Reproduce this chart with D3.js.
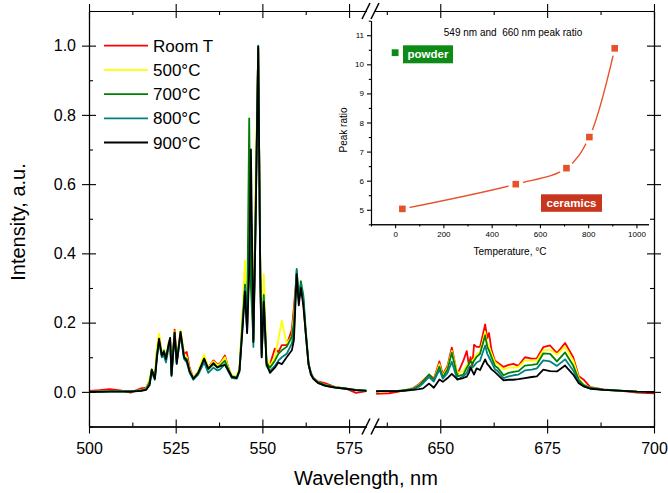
<!DOCTYPE html>
<html>
<head>
<meta charset="utf-8">
<script src="https://cdn.jsdelivr.net/npm/d3@7"></script>
<style>
  body { margin: 0; background: #fff; }
  text { font-family: "Liberation Sans", Arial, sans-serif; fill: #000; }
</style>
</head>
<body>
<div id="chart"></div>
<script>
/*
*   Luminescence spectra at several annealing temperatures (broken x axis),
*   with an inset of the 549 nm / 660 nm peak ratio against temperature.
*/

// ---- spectra, left part of the broken axis (500-580 nm)
var wlLeft = [500, 503, 506, 509, 512, 515, 516.5, 517.5, 518.1, 519, 519.6, 520.2, 521, 521.6, 522.2,
  523, 523.4, 523.8, 524.7, 525.3, 526.4, 527.4, 528.2, 529, 530.1, 531.5, 533.2, 534.4, 535.9, 537,
  537.8, 539.2, 540.2, 541.2, 542.6, 543.4, 544.2, 545, 545.6, 546.2, 546.7, 547.4, 548, 548.8, 549.4,
  549.8, 550.4, 551.2, 552.2, 553.6, 554.6, 555.6, 557, 558.5, 559.1, 559.9, 560.5, 561.1, 561.8, 562.5,
  563.3, 564, 564.7, 566, 568, 569, 571, 574, 577, 580];

var roomLeft = [0.003, 0.005, 0.008, 0.004, -0.002, 0.01, 0.012, 0.035, 0.06, 0.04, 0.12, 0.16, 0.11, 0.115, 0.095,
  0.14, 0.15, 0.055, 0.18, 0.09, 0.175, 0.11, 0.115, 0.07, 0.04, 0.058, 0.1, 0.07, 0.091, 0.08,
  0.082, 0.105, 0.07, 0.045, 0.042, 0.065, 0.2, 0.33, 0.18, 0.4, 0.45, 0.15, 0.5, 0.99, 0.35,
  0.12, 0.27, 0.085, 0.08, 0.125, 0.115, 0.135, 0.135, 0.18, 0.245, 0.34, 0.27, 0.31, 0.26, 0.17,
  0.08, 0.055, 0.04, 0.03, 0.025, 0.022, 0.014, 0.01, -0.003, 0.002];
var t500Left = [0.001, 0.001, 0.002, 0.002, 0.002, 0.004, 0.01, 0.04, 0.065, 0.045, 0.13, 0.168, 0.115, 0.12, 0.1,
  0.145, 0.15, 0.05, 0.175, 0.085, 0.178, 0.105, 0.1, 0.065, 0.04, 0.06, 0.108, 0.07, 0.088, 0.078,
  0.08, 0.1, 0.068, 0.048, 0.045, 0.07, 0.22, 0.38, 0.2, 0.45, 0.5, 0.16, 0.6, 0.99, 0.36,
  0.13, 0.34, 0.1, 0.075, 0.1, 0.15, 0.205, 0.14, 0.16, 0.22, 0.33, 0.27, 0.3, 0.26, 0.17,
  0.08, 0.055, 0.04, 0.028, 0.02, 0.018, 0.014, 0.01, 0.005, 0.003];
var t700Left = [0.001, 0.001, 0.002, 0.002, 0.002, 0.004, 0.008, 0.03, 0.065, 0.04, 0.11, 0.15, 0.105, 0.12, 0.1,
  0.135, 0.155, 0.05, 0.17, 0.085, 0.17, 0.1, 0.095, 0.06, 0.038, 0.055, 0.095, 0.065, 0.08, 0.072,
  0.076, 0.09, 0.065, 0.045, 0.042, 0.062, 0.19, 0.31, 0.19, 0.79, 0.3, 0.15, 0.5, 0.995, 0.35,
  0.11, 0.28, 0.085, 0.07, 0.09, 0.11, 0.12, 0.13, 0.16, 0.2, 0.355, 0.26, 0.32, 0.28, 0.18,
  0.085, 0.055, 0.04, 0.028, 0.02, 0.018, 0.014, 0.01, 0.006, 0.004];
var t800Left = [0.001, 0.001, 0.001, 0.001, 0.001, 0.003, 0.008, 0.025, 0.055, 0.035, 0.1, 0.145, 0.1, 0.105, 0.085,
  0.13, 0.145, 0.045, 0.165, 0.08, 0.165, 0.095, 0.085, 0.055, 0.035, 0.05, 0.085, 0.055, 0.07, 0.062,
  0.065, 0.08, 0.058, 0.04, 0.038, 0.058, 0.18, 0.3, 0.17, 0.42, 0.55, 0.13, 0.45, 1.0, 0.33,
  0.1, 0.27, 0.075, 0.06, 0.075, 0.09, 0.1, 0.11, 0.14, 0.17, 0.35, 0.27, 0.31, 0.27, 0.17,
  0.08, 0.05, 0.038, 0.026, 0.018, 0.016, 0.012, 0.009, 0.005, 0.003];
var t900Left = [0.0, 0.0, 0.001, 0.001, 0.001, 0.003, 0.006, 0.02, 0.064, 0.038, 0.1, 0.154, 0.105, 0.115, 0.095,
  0.14, 0.156, 0.048, 0.172, 0.082, 0.173, 0.1, 0.09, 0.06, 0.038, 0.055, 0.096, 0.067, 0.083, 0.07,
  0.074, 0.078, 0.062, 0.043, 0.04, 0.062, 0.17, 0.29, 0.17, 0.35, 0.7, 0.144, 0.45, 0.998, 0.33,
  0.1, 0.26, 0.08, 0.055, 0.07, 0.085, 0.08, 0.1, 0.12, 0.15, 0.34, 0.25, 0.3, 0.25, 0.17,
  0.08, 0.05, 0.038, 0.026, 0.018, 0.016, 0.012, 0.009, 0.005, 0.003];

// ---- spectra, right part of the broken axis (635-700 nm)
var wlRight = [635, 636, 638, 640, 642, 643.7, 645, 646, 647.4, 648.5, 649.8, 650.6, 651.7, 652.7, 654,
  655.4, 656.2, 656.7, 657.1, 657.5, 657.9, 658.5, 659.3, 660.5, 661, 661.4, 662, 662.8, 663.4, 664.8,
  666, 667.1, 668.3, 669.8, 671.4, 672.6, 674.1, 675.7, 677.3, 679.2, 681.1, 682.4, 683.5, 685.1, 688.2,
  692.9, 696, 700];

var roomRight = [-0.006, -0.005, -0.004, 0.0, 0.006, 0.011, 0.022, 0.033, 0.05, 0.038, 0.088, 0.05, 0.075, 0.128, 0.05,
  0.09, 0.118, 0.077, 0.1, 0.075, 0.136, 0.13, 0.13, 0.195, 0.155, 0.17, 0.12, 0.09, 0.085, 0.072,
  0.078, 0.081, 0.075, 0.1, 0.096, 0.097, 0.129, 0.134, 0.112, 0.141, 0.1, 0.045, 0.036, 0.014, 0.007,
  0.002, -0.002, -0.004];
var t500Right = [0.002, 0.001, 0.002, 0.003, 0.006, 0.01, 0.02, 0.03, 0.045, 0.035, 0.08, 0.045, 0.07, 0.118, 0.055,
  0.06, 0.078, 0.075, 0.085, 0.09, 0.095, 0.11, 0.115, 0.173, 0.14, 0.13, 0.11, 0.085, 0.08, 0.065,
  0.07, 0.07, 0.072, 0.091, 0.09, 0.09, 0.12, 0.122, 0.108, 0.13, 0.091, 0.04, 0.022, 0.012, 0.006,
  0.003, 0.001, 0.0];
var t700Right = [0.001, 0.002, 0.002, 0.003, 0.005, 0.009, 0.018, 0.03, 0.05, 0.034, 0.073, 0.042, 0.065, 0.113, 0.045,
  0.05, 0.07, 0.08, 0.09, 0.08, 0.09, 0.101, 0.11, 0.163, 0.13, 0.12, 0.1, 0.075, 0.07, 0.048,
  0.055, 0.058, 0.06, 0.076, 0.078, 0.08, 0.111, 0.11, 0.088, 0.114, 0.076, 0.035, 0.02, 0.012, 0.006,
  0.003, 0.001, 0.0];
var t800Right = [0.001, 0.002, 0.002, 0.002, 0.004, 0.008, 0.015, 0.025, 0.043, 0.03, 0.064, 0.038, 0.055, 0.087, 0.035,
  0.045, 0.055, 0.07, 0.075, 0.07, 0.075, 0.085, 0.09, 0.134, 0.11, 0.1, 0.085, 0.065, 0.06, 0.04,
  0.045, 0.048, 0.05, 0.062, 0.064, 0.068, 0.091, 0.088, 0.075, 0.094, 0.062, 0.03, 0.017, 0.01, 0.006,
  0.003, 0.001, 0.0];
var t900Right = [0.002, 0.002, 0.002, 0.002, 0.004, 0.006, 0.008, 0.01, 0.024, 0.012, 0.036, 0.029, 0.04, 0.052, 0.036,
  0.04, 0.044, 0.055, 0.07, 0.06, 0.05, 0.068, 0.063, 0.094, 0.08, 0.075, 0.065, 0.057, 0.05, 0.033,
  0.035, 0.035, 0.037, 0.04, 0.043, 0.045, 0.064, 0.06, 0.059, 0.076, 0.05, 0.025, 0.016, 0.009, 0.006,
  0.003, 0.001, 0.0];

var seriesNames = ["Room T", "500\u00B0C", "700\u00B0C", "800\u00B0C", "900\u00B0C"];
var seriesColors = ["#ff0000", "#ffff00", "#008000", "#008080", "#000000"];
var leftValues = [roomLeft, t500Left, t700Left, t800Left, t900Left];
var rightValues = [roomRight, t500Right, t700Right, t800Right, t900Right];

// ---- inset: peak ratio vs temperature
var insetTemp = [30, 500, 710, 805, 910];
var insetRatio = [5.03, 5.88, 6.43, 7.5, 10.55];
var powderTemp = [0];
var powderRatio = [10.4];

// ---- tick values
var yMajor = [0, 0.2, 0.4, 0.6, 0.8, 1.0];
var yMinor = [-0.1, 0.1, 0.3, 0.5, 0.7, 0.9, 1.1];
var xLeftMajor = [500, 525, 550, 575];
var xLeftMinor = [512.5, 537.5, 562.5];
var xRightMajor = [650, 675, 700];
var xRightMinor = [637.5, 662.5, 687.5];
var insetXMajor = [0, 200, 400, 600, 800, 1000];
var insetXMinor = [-100, 100, 300, 500, 700, 900];
var insetYMajor = [5, 6, 7, 8, 9, 10, 11];
var insetYMinor = [4.5, 5.5, 6.5, 7.5, 8.5, 9.5, 10.5, 11.5];

var width = 668, height = 493;
var top_ = 11, bottom = 426.5, left = 89, right = 654;

var svg = d3.select("#chart").append("svg")
  .attr("width", width)
  .attr("height", height);

var xLeft = d3.scaleLinear().domain([500, 580]).range([left, 366.4]);
var xRight = d3.scaleLinear().domain([634.5, 700]).range([374, right]);
var y = d3.scaleLinear().domain([-0.1, 1.1]).range([bottom, top_]);

//Spectra, drawn first so the frame sits on top
var clip = svg.append("clipPath").attr("id", "plot-clip")
  .append("rect").attr("x", left).attr("y", top_).attr("width", right - left).attr("height", bottom - top_);

var lines = svg.append("g").attr("clip-path", "url(#plot-clip)");
seriesNames.forEach(function(name, i) {
  var lineL = d3.line().x(function(d, j) { return xLeft(wlLeft[j]); }).y(function(d) { return y(d); });
  var lineR = d3.line().x(function(d, j) { return xRight(wlRight[j]); }).y(function(d) { return y(d); });
  lines.append("path").attr("d", lineL(leftValues[i]))
    .attr("fill", "none").attr("stroke", seriesColors[i]).attr("stroke-width", 1.8).attr("stroke-linejoin", "round");
  lines.append("path").attr("d", lineR(rightValues[i]))
    .attr("fill", "none").attr("stroke", seriesColors[i]).attr("stroke-width", 1.8).attr("stroke-linejoin", "round");
});

//Axis helper: major ticks cross the line, minor ticks point inside
function drawAxis(orient, scale, pos, majors, minors, withLabels, opts) {
  opts = opts || {};
  var make = { bottom: d3.axisBottom, top: d3.axisTop, left: d3.axisLeft, right: d3.axisRight }[orient];
  var tr = (orient == "bottom" || orient == "top") ? `translate(0,${pos})` : `translate(${pos},0)`;
  var tin = opts.tin == null ? 7 : opts.tin, tout = opts.tout == null ? 7 : opts.tout, tminor = opts.tminor == null ? -4 : opts.tminor;
  var g = svg.append("g").attr("transform", tr)
    .call(make(scale).tickValues(majors).tickSize(tout).tickSizeOuter(0).tickPadding(opts.pad || 5)
      .tickFormat(withLabels ? (opts.fmt || d3.format("")) : ""));
  if (tin) {
    svg.append("g").attr("transform", tr)
      .call(make(scale).tickValues(majors).tickSize(-tin).tickSizeOuter(0).tickFormat(""));
  }
  var gm = svg.append("g").attr("transform", tr)
    .call(make(scale).tickValues(minors).tickSize(tminor).tickSizeOuter(0).tickFormat(""));
  svg.selectAll(".domain").attr("stroke", "#000").attr("stroke-width", opts.lw || 1.6);
  svg.selectAll(".tick line").attr("stroke", "#000").attr("stroke-width", opts.lw || 1.6);
  g.selectAll("text").style("font-size", (opts.fs || 16) + "px").style("font-family", '"Liberation Sans", Arial, sans-serif');
  return g;
}

var mainOpts = { pad: 9, fs: 16, lw: 1.6 };
drawAxis("bottom", xLeft, bottom, xLeftMajor, xLeftMinor, true, mainOpts);
drawAxis("bottom", xRight, bottom, xRightMajor, xRightMinor, true, mainOpts);
drawAxis("top", xLeft, top_, xLeftMajor, xLeftMinor, false, mainOpts);
drawAxis("top", xRight, top_, xRightMajor, xRightMinor, false, mainOpts);
drawAxis("left", y, left, yMajor, yMinor, true, { pad: 6, fs: 16, lw: 1.6, fmt: d3.format(".1f") });
drawAxis("right", y, right, yMajor, yMinor, false, mainOpts);

//Break marks on top and bottom axes
[top_, bottom].forEach(function(yy) {
  [366, 375].forEach(function(xx) {
    svg.append("line")
      .attr("x1", xx - 4).attr("y1", yy + 8)
      .attr("x2", xx + 4).attr("y2", yy - 8)
      .attr("stroke", "#000").attr("stroke-width", 1.6);
  });
});

//Axis titles
svg.append("text")
  .attr("x", 366).attr("y", 485)
  .attr("text-anchor", "middle")
  .style("font-size", "20px")
  .text("Wavelength, nm");
svg.append("text")
  .attr("transform", "translate(25,222) rotate(-90)")
  .attr("text-anchor", "middle")
  .style("font-size", "20px")
  .text("Intensity, a.u.");

//Legend
var legend = svg.append("g").attr("transform", "translate(104,45.7)");
seriesNames.forEach(function(name, i) {
  var row = legend.append("g").attr("transform", `translate(0,${i * 24.2})`);
  row.append("line").attr("x1", 0).attr("x2", 44).attr("y1", 0).attr("y2", 0)
    .attr("stroke", seriesColors[i]).attr("stroke-width", 1.8);
  row.append("text").attr("x", 49).attr("y", 0).attr("dy", "0.36em")
    .style("font-size", "17px").text(name);
});

// ---- inset
var ix = d3.scaleLinear().domain([-100, 1050]).range([371, 648.5]);
var iy = d3.scaleLinear().domain([4.5, 11.5]).range([224.3, 20.7]);
var insetOpts = { tin: 0, tout: 4, tminor: 2.2, pad: 3, fs: 8, lw: 1.1 };
drawAxis("bottom", ix, iy(4.5), insetXMajor, insetXMinor, true, insetOpts);
drawAxis("left", ix === null ? null : iy, ix(-100), insetYMajor, insetYMinor, true, insetOpts);

var insetColor = "#e8502a";
var curve = d3.line()
  .x(function(d, i) { return ix(insetTemp[i]); })
  .y(function(d) { return iy(d); })
  .curve(d3.curveCatmullRom.alpha(0.5));
svg.append("path").attr("d", curve(insetRatio))
  .attr("fill", "none").attr("stroke", insetColor).attr("stroke-width", 1.4);

//white halo gives the gap between line and symbol
svg.append("g").selectAll("circle").data(insetRatio).join("circle")
  .attr("cx", function(d, i) { return ix(insetTemp[i]); })
  .attr("cy", function(d) { return iy(d); })
  .attr("r", 7.5).attr("fill", "#fff");
svg.append("g").selectAll("rect").data(insetRatio).join("rect")
  .attr("x", function(d, i) { return ix(insetTemp[i]) - 3.3; })
  .attr("y", function(d) { return iy(d) - 3.3; })
  .attr("width", 6.6).attr("height", 6.6).attr("fill", insetColor);
svg.append("g").selectAll("rect").data(powderRatio).join("rect")
  .attr("x", function(d, i) { return ix(powderTemp[i]) - 3.4; })
  .attr("y", function(d) { return iy(d) - 3.4; })
  .attr("width", 6.8).attr("height", 6.8).attr("fill", "#0e8a16");

//Label boxes
function tag(x, yy, w, h, fill, label) {
  svg.append("rect").attr("x", x).attr("y", yy).attr("width", w).attr("height", h).attr("fill", fill);
  svg.append("text").attr("x", x + w / 2).attr("y", yy + h / 2).attr("dy", "0.36em")
    .attr("text-anchor", "middle")
    .style("font-size", "11.5px").style("font-weight", "bold").style("fill", "#fff")
    .text(label);
}
tag(403, 45.3, 50, 18, "#0e8a16", "powder");
tag(541, 194.3, 61, 17.5, "#c8361e", "ceramics");

svg.append("text").attr("x", 513).attr("y", 35.5).attr("text-anchor", "middle")
  .style("font-size", "10px").text("549 nm and  660 nm peak ratio")
  .attr("xml:space", "preserve").style("white-space", "pre");
svg.append("text").attr("x", 510).attr("y", 254.5).attr("text-anchor", "middle")
  .style("font-size", "10px").text("Temperature, \u00B0C");
svg.append("text").attr("transform", "translate(347,130) rotate(-90)").attr("text-anchor", "middle")
  .style("font-size", "10px").text("Peak ratio");
</script>
</body>
</html>
